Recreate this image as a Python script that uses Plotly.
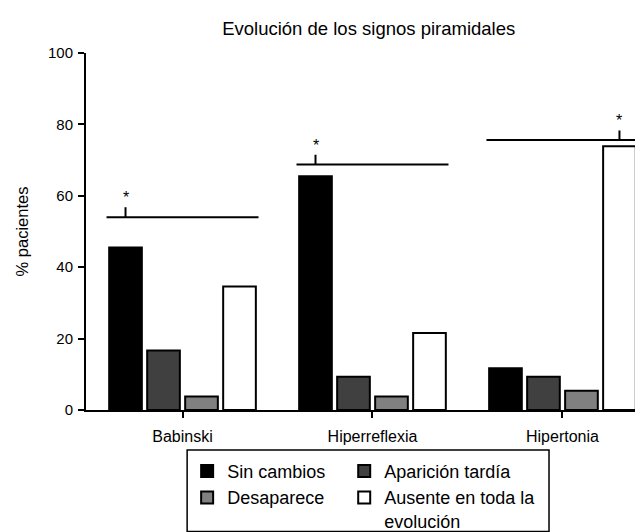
import plotly.graph_objects as go

categories = ["Babinski", "Hiperreflexia", "Hipertonia"]
series_names = ["Sin cambios", "Aparición tardía", "Desaparece", "Ausente en toda la<br>evolución"]
sin_cambios = [45.5, 65.5, 11.7]
aparicion_tardia = [16.7, 9.3, 9.3]
desaparece = [3.8, 3.8, 5.4]
ausente = [34.6, 21.6, 73.9]
bar_colors = ["#000000", "#404040", "#808080", "#ffffff"]

# significance brackets: line level, tick top, star level, tick bar offset
bracket_y = [54.0, 68.8, 75.6]
tick_top = [56.8, 71.5, 78.3]
star_y = [59.5, 74.2, 81.0]
tick_offset = [-0.3, -0.3, 0.3]

x = list(range(len(categories)))
values = [sin_cambios, aparicion_tardia, desaparece, ausente]
legend_ids = ["legend", "legend2", "legend", "legend2"]

FONT = "Liberation Sans, Arial, sans-serif"

fig = go.Figure()
for name, vals, col, lg in zip(series_names, values, bar_colors, legend_ids):
    fig.add_trace(go.Bar(
        x=x, y=vals, name=name,
        marker=dict(color=col, line=dict(color="#000000", width=2)),
        legend=lg,
    ))

shapes = []
annotations = []
for i in x:
    shapes.append(dict(type="line", xref="x", yref="y", x0=i - 0.4, x1=i + 0.4,
                       y0=bracket_y[i], y1=bracket_y[i], line=dict(color="black", width=2)))
    shapes.append(dict(type="line", xref="x", yref="y", x0=i + tick_offset[i], x1=i + tick_offset[i],
                       y0=bracket_y[i], y1=tick_top[i], line=dict(color="black", width=2)))
    annotations.append(dict(xref="x", yref="y", x=i + tick_offset[i], y=star_y[i], text="*",
                            showarrow=False, font=dict(size=16, color="black", family=FONT)))

# small extension of the x axis line to the left of the y axis
shapes.append(dict(type="line", xref="paper", yref="y", x0=-0.0106, x1=0, y0=0, y1=0,
                   line=dict(color="black", width=2)))
# legend frame
shapes.append(dict(type="rect", xref="paper", yref="paper", x0=0.179, x1=0.8195, y0=-0.34, y1=-0.1117,
                   line=dict(color="black", width=1.5), fillcolor="rgba(0,0,0,0)"))

fig.update_layout(
    width=643, height=532,
    margin=dict(l=78, r=0, t=45, b=120),
    paper_bgcolor="white", plot_bgcolor="white",
    font=dict(family=FONT, size=15, color="black"),
    title=dict(text="Evolución de los signos piramidales", x=0.561, xanchor="center",
               y=0.962, yanchor="middle", font=dict(size=18.5, color="black")),
    barmode="group", bargap=0.2, bargroupgap=0.14,
    showlegend=True,
    legend=dict(x=0.179, xanchor="left", y=-0.12, yanchor="top", orientation="v",
                font=dict(size=18), valign="top", bgcolor="rgba(0,0,0,0)",
                traceorder="normal", tracegroupgap=0),
    legend2=dict(x=0.457, xanchor="left", y=-0.12, yanchor="top", orientation="v",
                 font=dict(size=18), valign="top", bgcolor="rgba(0,0,0,0)",
                 traceorder="normal", tracegroupgap=0),
    shapes=shapes,
    annotations=annotations,
)
fig.update_xaxes(range=[-0.508, 2.466], tickvals=x, ticktext=categories,
                 showline=True, linecolor="black", linewidth=2,
                 ticks="outside", ticklen=6, tickwidth=2, tickcolor="black",
                 showgrid=False, zeroline=False, tickfont=dict(size=16),
                 ticklabelstandoff=5)
fig.update_yaxes(range=[0, 100], dtick=20, showline=True, linecolor="black", linewidth=2,
                 ticks="outside", ticklen=6, tickwidth=2, tickcolor="black",
                 showgrid=False, zeroline=False, tickfont=dict(size=15),
                 ticklabelstandoff=2,
                 title=dict(text="% pacientes", font=dict(size=16.5), standoff=15))

fig.write_html("out.html")
